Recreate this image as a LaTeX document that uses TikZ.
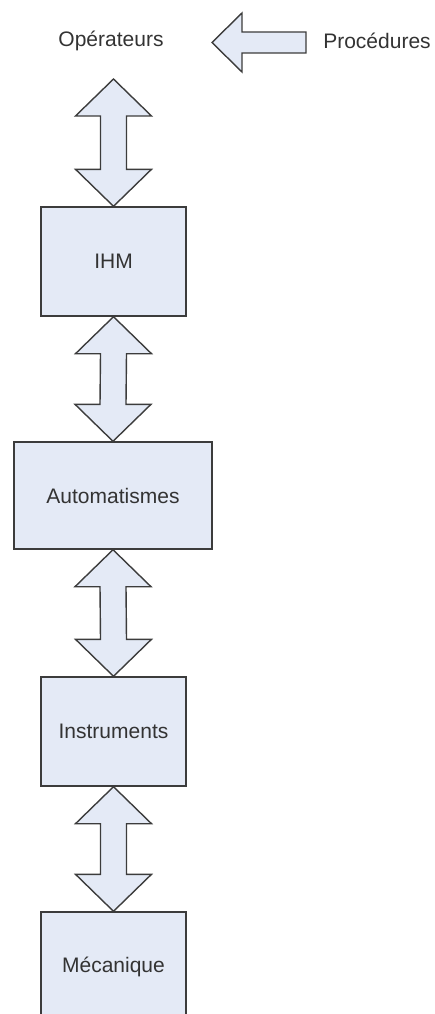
\documentclass[tikz,border=0pt]{standalone}
\usepackage{fontspec}
\setmainfont{Liberation Sans}
\usetikzlibrary{calc}
\definecolor{boxfill}{HTML}{E4EAF6}
\definecolor{edge}{HTML}{3C3C3C}
\definecolor{txt}{HTML}{333333}
\tikzset{
  blockbox/.style={draw=edge, line width=1.4pt, fill=boxfill, rectangle, inner sep=0pt,
    text=txt, font=\fontsize{21}{24}\selectfont, minimum width=145pt, minimum height=109pt},
  label/.style={text=txt, font=\fontsize{21}{24}\selectfont, inner sep=0pt},
  blkarrow/.style={draw=edge, line width=1.4pt, fill=boxfill, line join=miter}
}
\newcommand\dblarrow[2]{%
  \draw[blkarrow] (#1) -- ++(38,37) -- ++(-25,0) -- ($(#2)+(13,-37)$) -- ++(25,0) -- (#2)
    -- ++(-38,-37) -- ++(25,0) -- ($(#1)+(-13,37)$) -- ++(-25,0) -- cycle;}
\begin{document}
\begin{tikzpicture}[x=1pt,y=-1pt]
\useasboundingbox (0,0) rectangle (435,1014);
\clip (0,0) rectangle (435,1014);
\node[label] (op) at (111,41) {Opérateurs};
\node[label] (proc) at (377,41) {Procédures};
\node[blockbox] (ihm) at (113.5,261.5) {IHM};
\node[blockbox, minimum width=198pt, minimum height=107pt] (auto) at (113,495.5) {Automatismes};
\node[blockbox] (inst) at (113.5,731.5) {Instruments};
\node[blockbox] (meca) at (113.5,966.5) {Mécanique};
\coordinate (optop) at (113.5,79);
\coordinate (ptip) at (212,42.5);
\coordinate (pend) at (306,42.5);
% left arrow Procédures -> Opérateurs
\draw[blkarrow] (ptip) -- ++(30,-29.5) -- ++(0,19) -- ($(pend)+(0,-10.5)$) -- (pend) -- ++(0,10.5)
  -- ($(ptip)+(30,10.5)$) -- ++(0,19) -- cycle;
\dblarrow{optop}{ihm.north}
\dblarrow{ihm.south}{auto.north}
\dblarrow{auto.south}{inst.north}
\dblarrow{inst.south}{meca.north}
\end{tikzpicture}
\end{document}
